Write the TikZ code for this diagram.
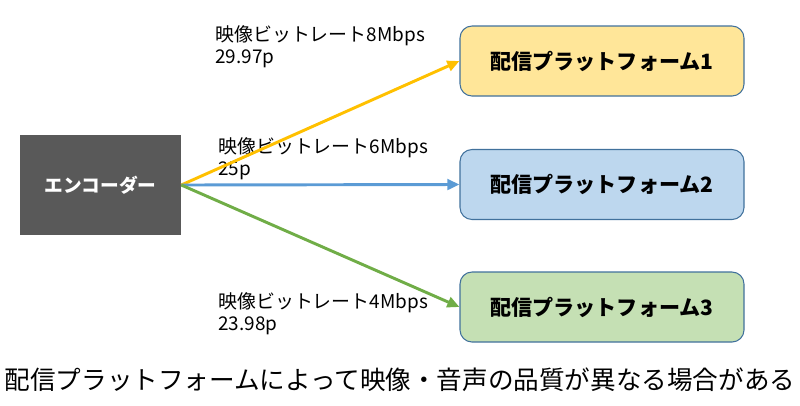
\documentclass[tikz,border=0pt]{standalone}
\usepackage{fontspec}
\setmainfont{Noto Sans CJK JP}
\usepackage{tikz}
\usetikzlibrary{positioning,arrows.meta}

\definecolor{encgray}{HTML}{595959}
\definecolor{boxline}{HTML}{41719C}
\definecolor{yfill}{HTML}{FFE699}
\definecolor{bfill}{HTML}{BDD7EE}
\definecolor{gfill}{HTML}{C5E0B4}
\definecolor{yline}{HTML}{FFC000}
\definecolor{bline}{HTML}{5B9BD5}
\definecolor{gline}{HTML}{70AD47}

\begin{document}
\begin{tikzpicture}[
  x=0.75pt, y=-0.75pt,
  >={Triangle[length=3.2mm, width=2.8mm]},
  enc/.style={fill=encgray, text=white, font=\fontsize{14}{16}\selectfont\bfseries,
    minimum width=120.75pt, minimum height=75pt, inner sep=0pt},
  plat/.style={draw=boxline, line width=0.8pt, rounded corners=9pt,
    minimum width=213pt, minimum height=52.5pt, inner sep=0pt,
    font=\fontsize{15.8}{18}\selectfont\bfseries},
  rate/.style={anchor=north west, align=left, inner sep=0pt,
    font=\fontsize{14.2}{17}\selectfont},
  feed/.style={->, line width=2.2pt}
]
\useasboundingbox (0,0) rectangle (800,405);

% ---------- nodes ----------
\node[enc] (E) at (100.5,185) {エンコーダー};
\node[plat, fill=yfill] (P1) at (602,61) {配信プラットフォーム1};
\node[plat, fill=bfill] (P2) at (602,184.5) {配信プラットフォーム2};
\node[plat, fill=gfill] (P3) at (602,307) {配信プラットフォーム3};

% ---------- labels ----------
\node[rate] (L1) at (215,25) {映像ビットレート8Mbps\\29.97p};
\node[rate] (L2) at (218,137) {映像ビットレート6Mbps\\25p};
\node[rate] (L3) at (218,292) {映像ビットレート4Mbps\\23.98p};

% ---------- arrows ----------
\draw[feed, yline] (E.east) -- (P1.west);
\draw[feed, bline] (E.east) -- (P2.west);
\draw[feed, gline] (E.east) -- (P3.west);

% ---------- caption ----------
\node[font=\fontsize{19.2}{22}\selectfont, inner sep=0pt] (C) at (400,380)
  {配信プラットフォームによって映像・音声の品質が異なる場合がある};
\end{tikzpicture}
\end{document}
